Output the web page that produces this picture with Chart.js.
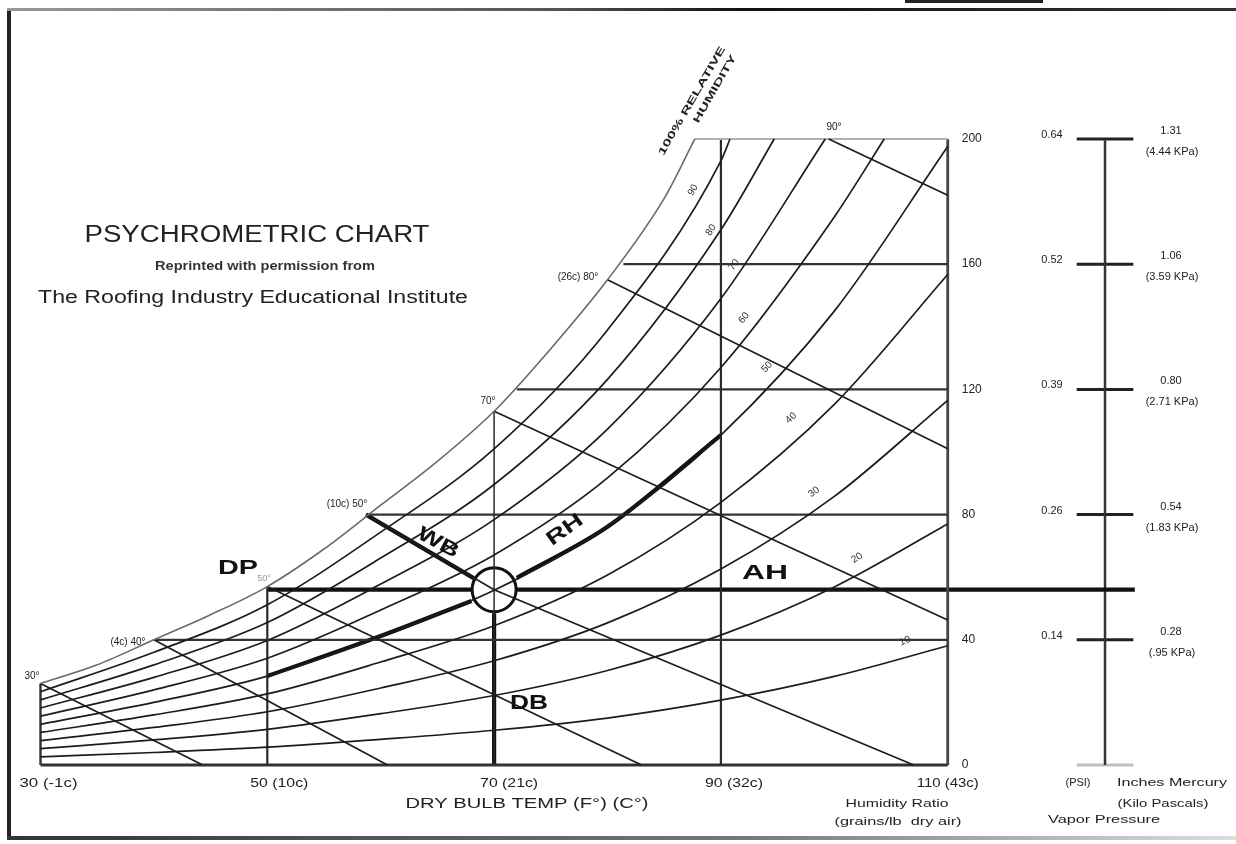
<!DOCTYPE html>
<html>
<head>
<meta charset="utf-8">
<script src="https://cdn.jsdelivr.net/npm/chart.js@4.4.1/dist/chart.umd.min.js"></script>
<style>
  html, body { margin: 0; padding: 0; background: #fff; }
  #wrap { width: 1236px; height: 844px; position: relative; }
</style>
</head>
<body>
<div id="wrap"><canvas id="chartPsy"></canvas></div>
<script>
var temps = [30, 40, 50, 60, 70, 80, 90, 100, 110];

// 100% saturation curve (grains / lb dry air)
var satTemps  = [30, 35, 40, 45, 50, 55, 60, 65, 70, 75, 80, 85, 87.7];
var satGrains = [26, 32, 40, 48, 57, 69, 83, 97, 113, 133, 155, 181, 200];

// relative humidity curves, grains at each of temps (null = above 200)
var rhLevels = [10, 20, 30, 40, 50, 60, 70, 80, 90];
var rh10 = [2.6, 4.0, 5.7, 8.2, 11.1, 15.0, 20.7, 28.3, 38.1];
var rh20 = [5.2, 8.0, 11.4, 16.4, 22.2, 30.2, 41.5, 56.9, 77.0];
var rh30 = [7.8, 12.0, 17.0, 24.6, 33.3, 45.4, 62.6, 85.8, 116.5];
var rh40 = [10.4, 16.0, 22.7, 32.9, 44.5, 60.7, 83.9, 115.2, 156.7];
var rh50 = [13.0, 20.0, 28.4, 41.2, 55.8, 76.1, 105.4, 145.0, 197.6];
var rh60 = [15.6, 24.0, 34.1, 49.5, 67.1, 91.7, 127.0, 175.1, null];
var rh70 = [18.2, 28.0, 39.8, 57.8, 78.4, 107.3, 149.0, null, null];
var rh80 = [20.8, 32.0, 45.5, 66.1, 89.6, 123.2, 171.0, null, null];
var rh90 = [23.4, 36.0, 51.2, 74.4, 101.0, 139.0, 193.0, null, null];
// temperature where a curve leaves the chart at 200 grains
var rhTopTemp = [null, null, null, null, null, 104.4, 99.2, 94.7, 90.8];

// wet bulb lines: start on saturation, end on the chart border
var wbStartT = [30, 40, 50, 58.7, 70, 80, 99.5];
var wbStartW = [26, 40, 57, 80, 113, 155, 200];
var wbMidT   = [null, null, null, 70, null, null, null];
var wbMidW   = [null, null, null, 56, null, null, null];
var wbEndT   = [44.3, 60.6, 83, 107, 110, 110, 110];
var wbEndW   = [0, 0, 0, 0, 46.3, 101, 182];

// grid
var dbLines  = [50, 70, 90];
var dbTops   = [57, 113, 200];
var grainLines = [40, 80, 120, 160, 200];
var grainStart = [40.1, 58.7, 72, 81.4, 87.7];

// axis texts
var xTickVals   = [30, 50, 70, 90, 110];
var xTickLabels = ['30 (-1c)', '50 (10c)', '70 (21c)', '90 (32c)', '110 (43c)'];
var yTickVals   = [200, 160, 120, 80, 40, 0];

// vapor pressure scale (drawn against the grain axis)
var vpGrains = [200, 160, 120, 80, 40];
var vpPsi    = ['0.64', '0.52', '0.39', '0.26', '0.14'];
var vpInHg   = ['1.31', '1.06', '0.80', '0.54', '0.28'];
var vpKpa    = ['(4.44 KPa)', '(3.59 KPa)', '(2.71 KPa)', '(1.83 KPa)', '(.95 KPa)'];
var vpTemp = 123.87;

// the example state: 70 F dry bulb, 50% RH
var stateDB = 70, stateW = 56, dewPoint = 50, wetBulbStart = 58.7;

var FONT = "'Liberation Sans', Arial, sans-serif";

function seg(points, color, width, curved) {
  return {
    data: points.map(function (p) { return { x: p[0], y: p[1] }; }),
    showLine: true,
    borderColor: color,
    borderWidth: width,
    pointRadius: 0,
    fill: false,
    tension: 0,
    cubicInterpolationMode: curved ? 'monotone' : 'default'
  };
}

var datasets = [];

// saturation curve
datasets.push(seg(satTemps.map(function (t, i) { return [t, satGrains[i]]; }), '#6a6a6a', 1.6, true));

// RH curves
[rh10, rh20, rh30, rh40, rh50, rh60, rh70, rh80, rh90].forEach(function (arr, k) {
  var pts = [];
  arr.forEach(function (w, i) { if (w !== null) pts.push([temps[i], w]); });
  if (rhTopTemp[k] !== null) pts.push([rhTopTemp[k], 200]);
  datasets.push(seg(pts, '#1c1c1c', 1.7, true));
});

// wet bulb lines
wbStartT.forEach(function (t, i) {
  var pts = [[t, wbStartW[i]]];
  if (wbMidT[i] !== null) pts.push([wbMidT[i], wbMidW[i]]);
  pts.push([wbEndT[i], wbEndW[i]]);
  datasets.push(seg(pts, '#1c1c1c', 1.7, false));
});

// horizontal grain lines
grainLines.forEach(function (w, i) {
  datasets.push(seg([[grainStart[i], w], [110, w]], w === 200 ? '#b0b0b0' : '#333', 2.2, false));
});

// vertical dry bulb lines
dbLines.forEach(function (t, i) {
  datasets.push(seg([[t, 0], [t, dbTops[i]]], '#2a2a2a', t === 70 ? 1.5 : 2.2, false));
});

// chart frame
datasets.push(seg([[30, 0], [110, 0]], '#333', 2.8, false));
datasets.push(seg([[110, 0], [110, 200]], '#444', 2.8, false));
datasets.push(seg([[30, 0], [30, 26]], '#333', 2.4, false));

// thick highlight lines
datasets.push(seg([[dewPoint, stateW], [68, stateW]], '#111', 4.2, false));
datasets.push(seg([[72, stateW], [126.5, stateW]], '#111', 4.2, false));
datasets.push(seg([[stateDB, 0], [stateDB, 48.5]], '#111', 4.2, false));
datasets.push(seg([[wetBulbStart, 80], [68.2, 59.7]], '#111', 4.2, false));
datasets.push(seg([[50, rh50[2]], [60, rh50[3]], [68, 52.4]], '#111', 4.2, true));
datasets.push(seg([[72, 59.8], [80, rh50[5]], [90, rh50[6]]], '#111', 4.2, true));

// vapor pressure scale
datasets.push(seg([[vpTemp, 0], [vpTemp, 200]], '#333', 2.5, false));
vpGrains.forEach(function (w) {
  datasets.push(seg([[vpTemp - 2.5, w], [vpTemp + 2.5, w]], '#222', 3, false));
});
datasets.push(seg([[vpTemp - 2.5, 0], [vpTemp + 2.5, 0]], '#c0c0c0', 3, false));

// the state circle
datasets.push({
  data: [{ x: stateDB, y: stateW }],
  showLine: false,
  pointRadius: 22,
  pointBorderWidth: 3,
  pointBorderColor: '#111',
  pointBackgroundColor: 'rgba(0,0,0,0)'
});

function text(ctx, s, x, y, size, opt) {
  opt = opt || {};
  ctx.save();
  ctx.font = (opt.weight || 'normal') + ' ' + size + 'px ' + FONT;
  ctx.fillStyle = opt.color || '#222';
  ctx.textAlign = opt.align || 'center';
  ctx.textBaseline = 'middle';
  ctx.translate(x, y);
  if (opt.angle) ctx.rotate(opt.angle * Math.PI / 180);
  if (opt.width) {
    var w = ctx.measureText(s).width;
    ctx.scale(opt.width / w, 1);
  }
  ctx.fillText(s, 0, 0);
  ctx.restore();
}

var labelsPlugin = {
  id: 'psyLabels',
  afterDatasetsDraw: function (chart) {
    var ctx = chart.ctx;
    var X = function (v) { return chart.scales.x.getPixelForValue(v); };
    var Y = function (v) { return chart.scales.y.getPixelForValue(v); };

    // picture frame
    ctx.save();
    ctx.fillStyle = '#222';
    ctx.fillRect(7, 8, 4, 832);
    var g = ctx.createLinearGradient(0, 0, 1236, 0);
    g.addColorStop(0, '#333'); g.addColorStop(0.6, '#777'); g.addColorStop(1, '#ddd');
    ctx.fillStyle = g;
    ctx.fillRect(7, 836, 1229, 4);
    var g2 = ctx.createLinearGradient(0, 0, 1236, 0);
    g2.addColorStop(0, '#999'); g2.addColorStop(0.45, '#555'); g2.addColorStop(0.6, '#111'); g2.addColorStop(1, '#333');
    ctx.fillStyle = g2;
    ctx.fillRect(7, 8, 1229, 3);
    ctx.fillStyle = '#222';
    ctx.fillRect(905, 0, 138, 3);
    ctx.restore();

    // title block
    text(ctx, 'PSYCHROMETRIC CHART', 257, 236, 23, { width: 345 });
    text(ctx, 'Reprinted with permission from', 265, 267, 12, { weight: 'bold', width: 220, color: '#333' });
    text(ctx, 'The Roofing Industry Educational Institute', 253, 298, 18, { width: 430 });

    // 100% relative humidity note
    text(ctx, '100% RELATIVE', 692, 101, 10, { weight: 'bold', angle: -60, width: 124 });
    text(ctx, 'HUMIDITY', 715, 89, 10, { weight: 'bold', angle: -60, width: 77 });

    // wet bulb labels
    text(ctx, '30°', 32, 676, 10);
    text(ctx, '(4c) 40°', 128, 642, 10);
    text(ctx, '(10c) 50°', 347, 504, 10);
    text(ctx, '50°', 264, 579, 9, { color: '#999' });
    text(ctx, '70°', 488, 401, 10);
    text(ctx, '(26c) 80°', 578, 277, 10);
    text(ctx, '90°', 834, 127, 10);

    // RH curve labels
    var rhPos = [[905, 641, -25], [857, 558, -32], [814, 492, -38], [791, 418, -43], [767, 367, -47],
                 [744, 318, -50], [734, 265, -54], [711, 230, -56], [693, 190, -58]];
    rhLevels.forEach(function (lv, i) {
      text(ctx, String(lv), rhPos[i][0], rhPos[i][1], 10, { angle: rhPos[i][2], color: '#333' });
    });

    // big markers
    text(ctx, 'DP', 238, 568, 21, { weight: 'bold', width: 40, color: '#111' });
    text(ctx, 'WB', 438, 543, 20, { weight: 'bold', width: 44, angle: 28, color: '#111' });
    text(ctx, 'RH', 565, 530, 20, { weight: 'bold', width: 40, angle: -36, color: '#111' });
    text(ctx, 'AH', 765, 573, 21, { weight: 'bold', width: 46, color: '#111' });
    text(ctx, 'DB', 529, 703, 21, { weight: 'bold', width: 38, color: '#111' });

    // x axis labels
    var xOff = [8, 12, 15, 13, 0];
    xTickVals.forEach(function (v, i) {
      text(ctx, xTickLabels[i], X(v) + xOff[i], 784, 12, { width: i === 4 ? 62 : 58 });
    });
    text(ctx, 'DRY BULB TEMP (F°) (C°)', 527, 804, 15, { width: 243 });
    text(ctx, 'Humidity Ratio', 897, 804, 11, { width: 103 });
    text(ctx, '(grains/lb  dry air)', 898, 822, 11, { width: 127 });

    // grain axis labels
    yTickVals.forEach(function (v) {
      text(ctx, String(v), X(110) + 14, Y(v), 12, { align: 'left' });
    });

    // vapor pressure labels
    vpGrains.forEach(function (w, i) {
      var y = Y(w);
      text(ctx, vpPsi[i], 1052, y - 4, 11);
      text(ctx, vpInHg[i], 1171, y - 8, 11);
      text(ctx, vpKpa[i], 1172, y + 13, 11);
    });
    text(ctx, '(PSI)', 1078, 783, 11);
    text(ctx, 'Inches Mercury', 1172, 783, 11, { width: 110 });
    text(ctx, '(Kilo Pascals)', 1163, 804, 11, { width: 91 });
    text(ctx, 'Vapor Pressure', 1104, 820, 11, { width: 112 });
  }
};

var ctxPsy = document.getElementById('chartPsy').getContext('2d');
var chartPsy = new Chart(ctxPsy, {
  type: 'scatter',
  data: { datasets: datasets },
  options: {
    responsive: true,
    maintainAspectRatio: false,
    animation: false,
    events: [],
    layout: { padding: 0, autoPadding: false },
    plugins: { legend: { display: false }, tooltip: { enabled: false } },
    elements: { point: { radius: 0 } },
    scales: {
      x: { type: 'linear', min: 26.43, max: 135.42, display: false },
      y: { type: 'linear', min: -25.24, max: 244.4, display: false }
    }
  },
  plugins: [labelsPlugin]
});
</script>
</body>
</html>
